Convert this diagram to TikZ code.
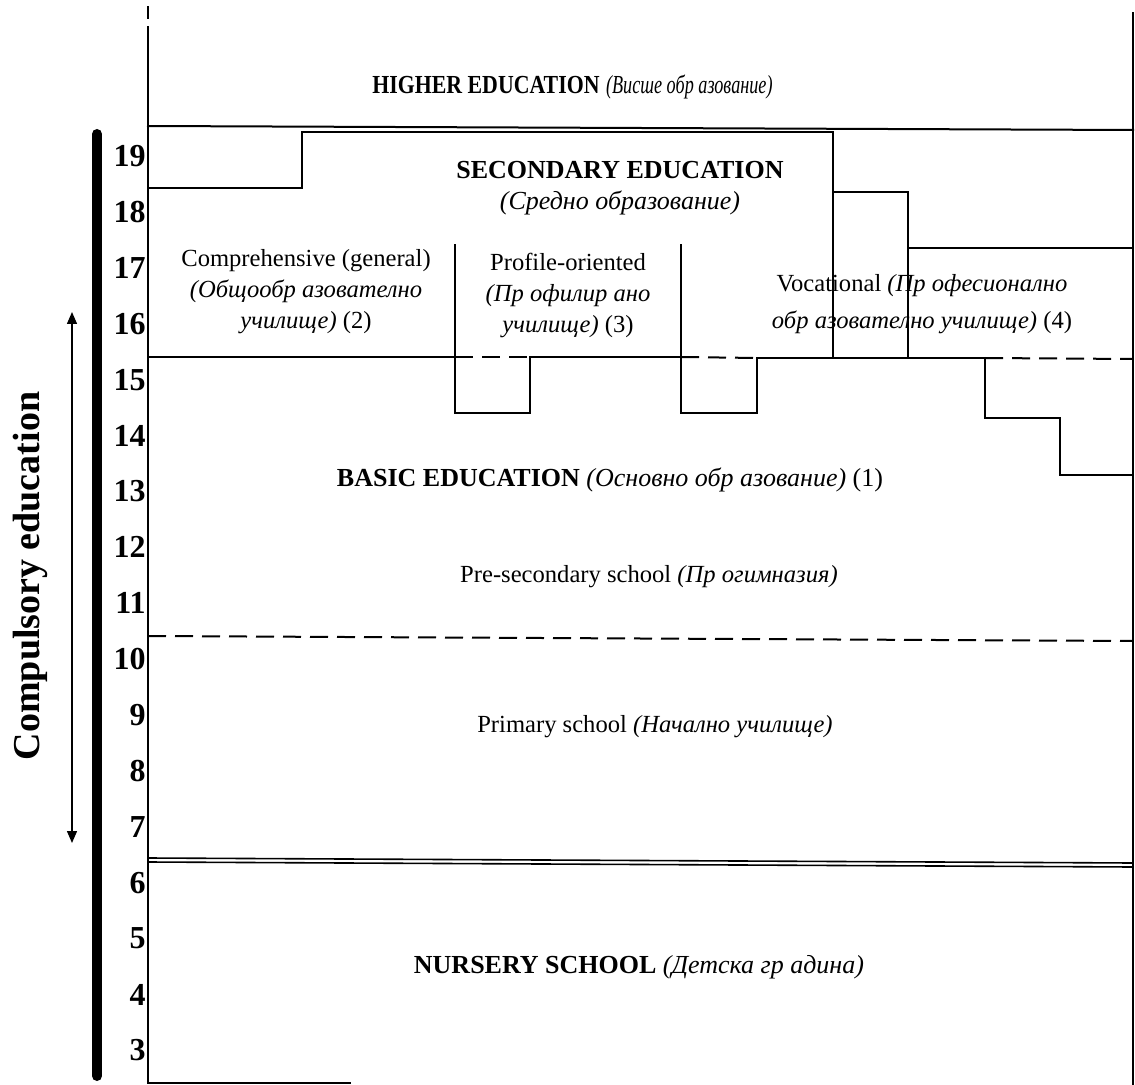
\documentclass[tikz,border=0pt]{standalone}
\usepackage{fontspec}
\usepackage{graphicx}
\setmainfont{Liberation Serif}
\usetikzlibrary{arrows.meta}

\tikzset{
  frame/.style={line width=1pt, line cap=rect},
  dashline/.style={line width=1pt, dash pattern=on 9pt off 4.5pt},
  heading/.style={font=\fontsize{13}{15}\selectfont, inner sep=0pt},
  schooltext/.style={font=\fontsize{12.3}{15.5}\selectfont, align=center, inner sep=0pt},
  age/.style={font=\bfseries\fontsize{16}{18}\selectfont, anchor=east, inner sep=0pt},
}

\begin{document}
\begin{tikzpicture}[x=0.5pt,y=-0.5pt]
\useasboundingbox (0,0) rectangle (1135,1085);

% outer frame
\draw[frame] (148,7) -- (148,18);
\draw[frame] (148,27) -- (148,1083) -- (350,1083);
\draw[frame] (1133,13) -- (1133,1085);

% higher education floor
\draw[frame] (148,126) -- (1133,130);

% secondary education outline
\draw[frame] (148,188) -- (302,188) -- (302,132) -- (833,132) -- (833,358);
\draw[frame] (833,192) -- (908,192) -- (908,358);
\draw[frame] (908,248) -- (1133,248);

% boundary between basic and secondary education
\draw[frame] (148,357) -- (455,357);
\draw[dashline] (455,357) -- (530,357);
\draw[frame] (530,357) -- (681,357);
\draw[dashline] (681,357) -- (757,358);
\draw[frame] (757,358) -- (985,358);
\draw[dashline] (985,358) -- (1133,359);

% profile dividers with their early-entry steps
\draw[frame] (455,245) -- (455,413) -- (530,413) -- (530,357);
\draw[frame] (681,245) -- (681,413) -- (757,413) -- (757,358);

% vocational staircase
\draw[frame] (985,358) -- (985,418) -- (1060,418) -- (1060,475) -- (1133,475);

% primary / pre-secondary boundary
\draw[dashline] (148,636) -- (1133,641);

% school entry double line
\draw[line width=0.8pt] (148,858) -- (1133,863);
\draw[line width=0.8pt] (148,862) -- (1133,867);

% age scale
\draw[line width=5pt, line cap=round] (97,134) -- (97,1076);
\foreach \a in {3,...,19}
  \node[age] (age\a) at (146,{156+(19-\a)*55.9}) {\a};

% compulsory education span
\coordinate (compTop) at (72,312);
\coordinate (compBot) at (72,843);
\draw[line width=0.7pt, {Triangle[width=5pt,length=6pt]}-{Triangle[width=5pt,length=6pt]}] (compTop) -- (compBot);
\node[rotate=90, font=\bfseries\fontsize{19}{22}\selectfont, inner sep=0pt] (compulsory) at (30,576) {Compulsory education};

% labels
\node[heading, anchor=west] (higher) at (372,87) {\scalebox{0.84}[1]{\textbf{HIGHER EDUCATION}} \scalebox{0.7}[1]{\textit{(Висше обр азование)}}};
\node[heading, align=center] (secondary) at (620,188) {\textbf{SECONDARY EDUCATION}\\[0.5pt]\textit{(Средно образование)}};
\node[schooltext] (comprehensive) at (306,292) {Comprehensive (general)\\\textit{(Общообр азователно}\\\textit{училище)} (2)};
\node[schooltext] (profile) at (568,295) {Profile-oriented\\\textit{(Пр офилир ано}\\\textit{училище)} (3)};
\node[schooltext, font=\fontsize{12.3}{18.5}\selectfont] (vocational) at (922,304) {Vocational \textit{(Пр офесионално}\\\textit{обр азователно училище)} (4)};
\node[heading] (basic) at (610,480) {\textbf{BASIC EDUCATION} \textit{(Основно обр азование)} (1)};
\node[schooltext] (presecondary) at (649,577) {Pre-secondary school \textit{(Пр огимназия)}};
\node[schooltext] (primary) at (655,727) {Primary school \textit{(Начално училище)}};
\node[heading] (nursery) at (639,967) {\textbf{NURSERY SCHOOL} \textit{(Детска гр адина)}};
\end{tikzpicture}
\end{document}
